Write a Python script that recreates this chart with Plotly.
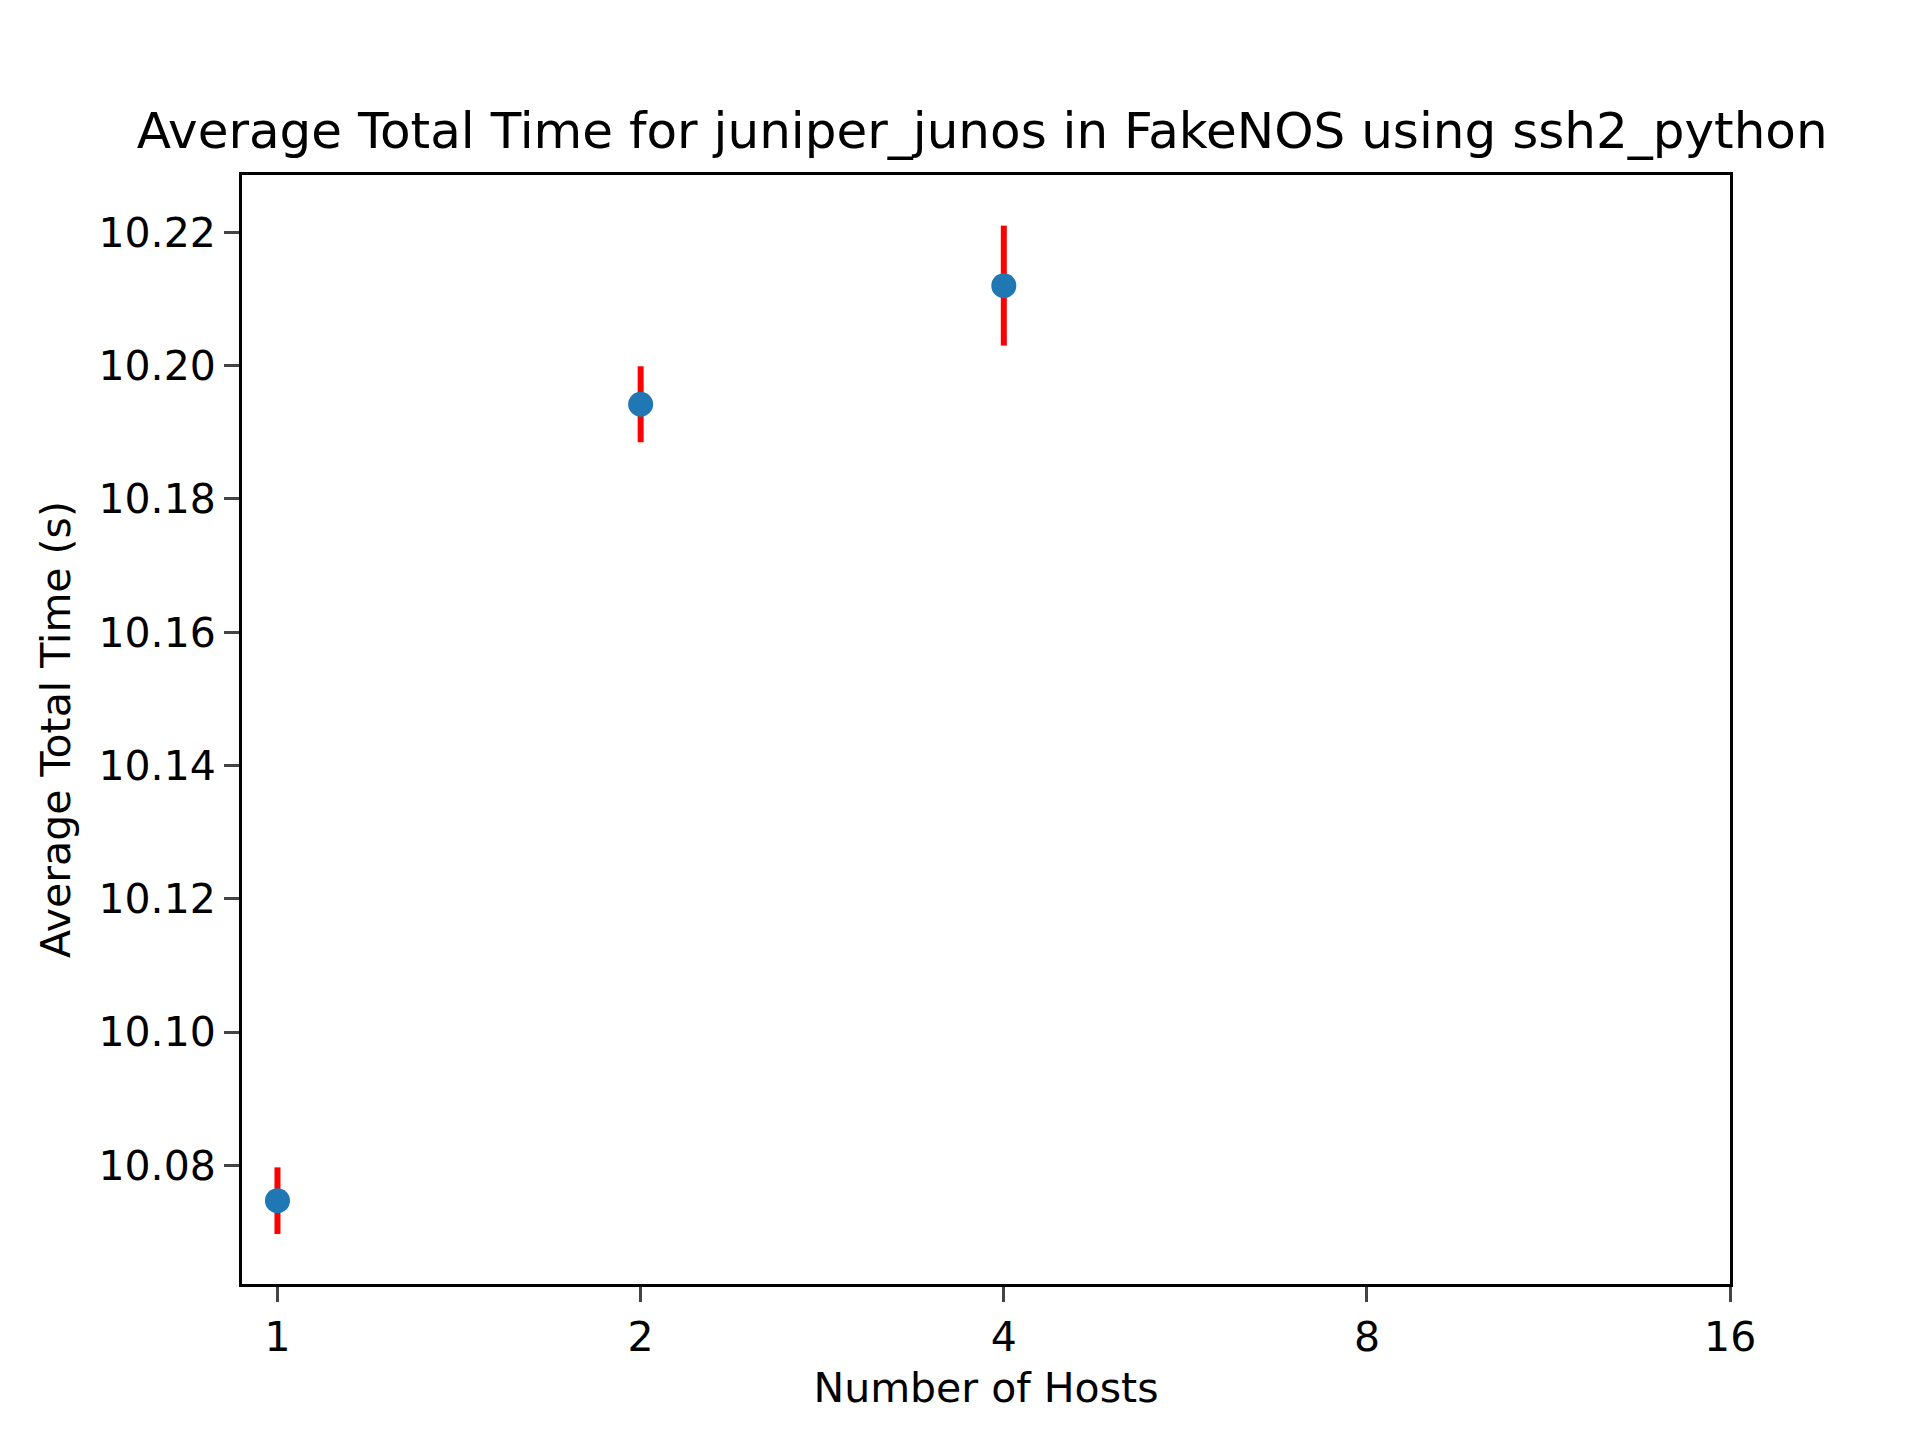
import plotly.graph_objects as go

hosts = [1, 2, 4]
avg_time = [10.0747, 10.1942, 10.2120]
std_time = [0.0050, 0.0057, 0.0090]
tick_vals = [1, 2, 4, 8, 16]

fig = go.Figure()
fig.add_trace(go.Scatter(
    x=hosts, y=avg_time, mode="markers",
    marker=dict(color="#1f77b4", size=25),
    error_y=dict(type="data", array=std_time, color="red", thickness=6, width=0),
))

fig.update_layout(
    width=1920, height=1440,
    margin=dict(l=234, r=198, t=167, b=164),
    paper_bgcolor="white", plot_bgcolor="white",
    font=dict(family="DejaVu Sans", size=41, color="black"),
    title=dict(text="Average Total Time for juniper_junos in FakeNOS using ssh2_python",
               x=0.5074, xanchor="center", y=1 - 140 / 1440, yanchor="bottom",
               font=dict(size=50)),
    showlegend=False,
)
fig.update_xaxes(
    type="log", range=[-0.0294, 1.204],
    tickvals=tick_vals, ticktext=[str(v) for v in tick_vals],
    title=dict(text="Number of Hosts", standoff=14, font=dict(size=41)),
    showgrid=False, zeroline=False, showline=True, linecolor="black", linewidth=3, mirror=True,
    ticks="outside", ticklen=15, tickwidth=3,
)
fig.update_yaxes(
    range=[10.0622, 10.2286], dtick=0.02, tickformat=".2f",
    title=dict(text="Average Total Time (s)", standoff=16, font=dict(size=41)),
    showgrid=False, zeroline=False, showline=True, linecolor="black", linewidth=3, mirror=True,
    ticks="outside", ticklen=15, tickwidth=3,
)

fig.write_html("out.html")
